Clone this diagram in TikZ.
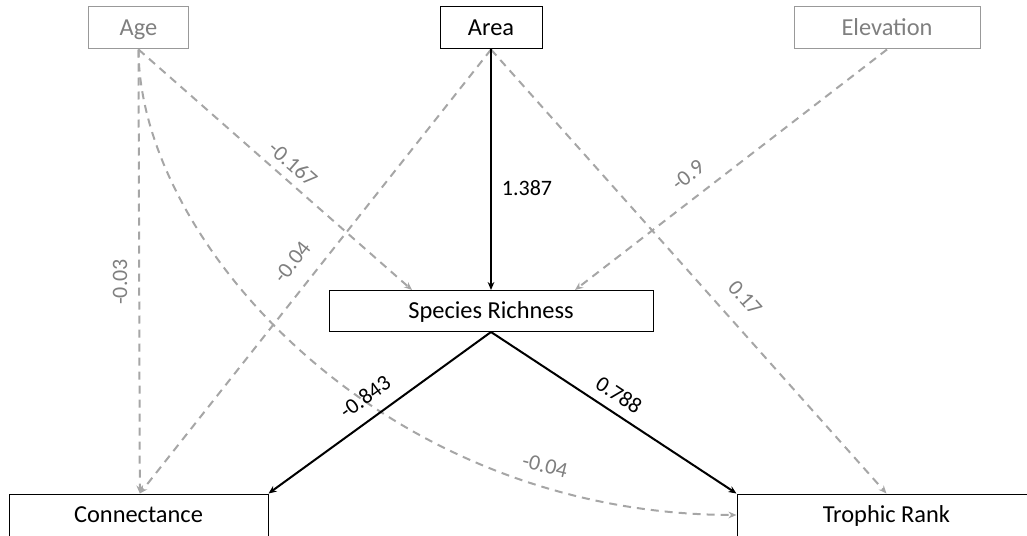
\documentclass[tikz,border=0pt]{standalone}
\usepackage{fontspec}
\setmainfont{Carlito}
\usetikzlibrary{arrows.meta}
\definecolor{lgray}{HTML}{A6A6A6}
\definecolor{tgray}{HTML}{7F7F7F}
\definecolor{bgray}{HTML}{999999}
\begin{document}
\begin{tikzpicture}[x=0.75pt,y=-0.75pt,
  box/.style={draw=black,line width=0.75pt,inner sep=0pt,minimum height=31.5pt,text height=11.8pt,text depth=0pt,font=\fontsize{18.3}{20}\selectfont,text=black},
  graybox/.style={box,draw=bgray,text=tgray},
  solidarrow/.style={draw=black,line width=1.5pt,-{Stealth[length=6pt,width=5pt]}},
  dasharrow/.style={draw=lgray,line width=1.5pt,dash pattern=on 6pt off 4.5pt,-{Stealth[length=6pt,width=5pt]}},
  lab/.style={font=\fontsize{16.5}{18}\selectfont,inner sep=0pt,text=black},
  glab/.style={lab,text=tgray}]
\useasboundingbox (0,0) rectangle (1027,535);
% nodes
\node[graybox,minimum width=75pt] (age) at (138.5,28) {Age};
\node[box,minimum width=76.5pt] (area) at (491,28) {Area};
\node[graybox,minimum width=139.5pt] (elev) at (887,28) {Elevation};
\node[box,minimum width=243pt,minimum height=30.75pt] (sr) at (491,311) {Species Richness};
\node[box,minimum width=194.25pt] (conn) at (138.5,515) {Connectance};
\node[box,minimum width=224.25pt] (tr) at (886.5,515) {Trophic Rank};
% dashed gray connectors
\draw[dasharrow] (age.south) -- ([xshift=1pt]conn.north);
\draw[dasharrow] (age.south) -- ([xshift=-59.25pt]sr.north);
\draw[dasharrow] (age.south) .. controls (139,240) and (380,514) .. (tr.west);
\draw[dasharrow] (area.south) -- ([xshift=1pt]conn.north);
\draw[dasharrow] (area.south) -- (tr.north);
\draw[dasharrow] (elev.south) -- ([xshift=63pt]sr.north);
% solid connectors
\draw[solidarrow] (area.south) -- (sr.north);
\draw[solidarrow] (sr.south) -- (conn.north east);
\draw[solidarrow] (sr.south) -- (tr.north west);
% labels
\node[glab,rotate=-41.3] (l1) at (293,164) {-0.167};
\node[glab,rotate=37.7] (l2) at (688,175) {-0.9};
\node[glab,rotate=-48.5] (l3) at (745,298) {0.17};
\node[lab] (l4) at (527,188) {1.387};
\node[glab,rotate=51.7] (l5) at (292,262) {-0.04};
\node[glab,rotate=90] (l6) at (120,282) {-0.03};
\node[lab,rotate=36] (l7) at (365,397) {-0.843};
\node[lab,rotate=-33.6] (l8) at (619,395) {0.788};
\node[glab,rotate=-14] (l9) at (545,466) {-0.04};
\end{tikzpicture}
\end{document}
